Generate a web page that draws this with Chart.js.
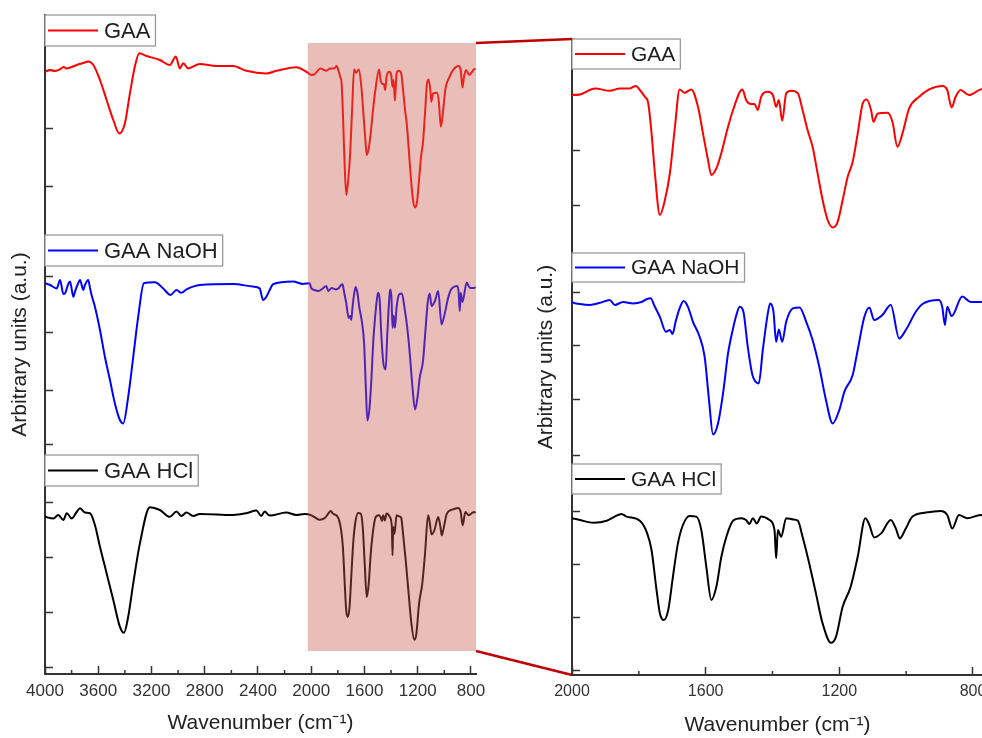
<!DOCTYPE html>
<html>
<head>
<meta charset="utf-8">
<script src="https://cdn.jsdelivr.net/npm/chart.js@4.4.1/dist/chart.umd.min.js"></script>
<style>
  html, body { margin: 0; padding: 0; background: #fff; overflow: hidden; width: 982px; height: 738px; }
  #leftWrap { position: absolute; left: 0; top: 0; width: 500px; height: 738px; }
  #rightWrap { position: absolute; left: 470px; top: 0; width: 530px; height: 738px; }
</style>
</head>
<body>
<div id="leftWrap"><canvas id="leftChart"></canvas></div>
<div id="rightWrap"><canvas id="rightChart"></canvas></div>
<script>
// Espectros FTIR (número de onda, intensidad relativa en u.a.)
const gaaWn = [
    4000, 3962, 3925, 3887, 3862, 3837, 3800, 3762, 3712, 3675,
    3637, 3587, 3537, 3487, 3442, 3400, 3362, 3325, 3292, 3237,
    3137, 3062, 3017, 2987, 2962, 2925, 2837, 2712, 2587, 2487,
    2337, 2262, 2112, 2025, 2000, 1976, 1931, 1887, 1857, 1827,
    1809, 1797, 1782, 1772, 1762, 1752, 1737, 1722, 1707, 1692,
    1678, 1663, 1643, 1623, 1608, 1593, 1583, 1568, 1553, 1538,
    1518, 1490, 1479, 1464, 1454, 1444, 1434, 1414, 1399, 1389,
    1381, 1371, 1359, 1344, 1324, 1310, 1295, 1280, 1265, 1250,
    1235, 1220, 1205, 1190, 1175, 1160, 1145, 1130, 1118, 1105,
    1098, 1085, 1056, 1041, 1026, 1011, 991, 961, 931, 892,
    877, 864, 852, 837, 812, 777, 765
];
const gaaVal = [
    -1.9, -1, -1.5, -0.7, 0.5, -0.2, 0.5, 1.5, 2.5, 3.2,
    1.5, -6, -16, -26, -32.7, -27.7, -12.7, 0.7, 7.4, 6,
    4, 1.5, 5.7, -0.2, 2.4, -0.2, 2, 1, 1, -1.4,
    -2.7, -1.4, 0.4, -2.4, -3.5, -3.2, -0.2, -1.4, -0.2, -0.2,
    1, -1, -4.4, -7.5, -22.5, -42.5, -63.5, -56, -42.5, -19.5,
    -0.7, -2.4, -0.7, -9.4, -22.7, -36, -43.5, -40.2, -32.5, -22.5,
    -11, -0.7, -6, -8, -8, -11, -4.4, -1.9, -3.5, -9.4,
    -6, -16.4, -2.7, -1.4, -2.7, -11, -21, -29.4, -42.7, -56,
    -66, -69.7, -66.9, -56, -44.4, -36.9, -22.7, -7.7, -5.7, -11,
    -16.9, -12.7, -12.4, -16.9, -29.4, -22.7, -10.2, -4.4, -0.7, 1,
    -1, -9.7, -4.4, -1, -3.5, -0.7, -0.5
];

const naohWn = [
    4000, 3962, 3912, 3887, 3862, 3850, 3825, 3812, 3787, 3775,
    3750, 3737, 3712, 3700, 3675, 3662, 3650, 3625, 3587, 3550,
    3512, 3475, 3437, 3412, 3375, 3337, 3300, 3257, 3175, 3112,
    3057, 3012, 2975, 2937, 2837, 2587, 2437, 2387, 2362, 2337,
    2312, 2287, 2137, 2062, 2012, 2000, 1976, 1946, 1916, 1887,
    1872, 1847, 1817, 1792, 1777, 1765, 1752, 1737, 1719, 1707,
    1699, 1690, 1678, 1666, 1653, 1638, 1618, 1603, 1590, 1578,
    1563, 1548, 1533, 1518, 1508, 1498, 1487, 1474, 1460, 1441,
    1429, 1414, 1407, 1397, 1389, 1381, 1371, 1359, 1339, 1319,
    1299, 1280, 1260, 1240, 1220, 1200, 1185, 1160, 1145, 1125,
    1110, 1096, 1071, 1046, 1021, 1001, 971, 951, 902, 892,
    884, 877, 864, 832, 807, 777, 765
];
const naohVal = [
    2.4, 1.5, -0.2, 4, -3, -2.7, 2, 3.2, -4.4, -1.9,
    2.5, 4, -1, 1.5, 4, 0, -3.5, -9.4, -21, -34.4,
    -46, -57.7, -66, -67.7, -54.4, -34.4, -14.4, 2.4, 2.9, -0.2,
    -3.5, -1, -2.4, -0.7, 1.5, 2, 0.7, -0.2, -6, -4.4,
    -1, 1.9, 3.2, 2, 2.4, 0, -1, -1.5, -0.4, 1,
    -1.5, 0, -0.7, 0, 1.4, 1.9, -2.4, -7.4, -14.9, -14,
    -16, -9.9, -3.2, 0.5, -2.4, -9.9, -17.4, -27.4, -49, -66.2,
    -60.7, -45.7, -25.7, -13.2, -6.5, -2.4, -4.9, -22.4, -36.5, -40.7,
    -24, -5.7, -0.7, -4.9, -19.9, -13.7, -19.9, -9.9, -3.2, -2.7,
    -9.9, -19, -32.4, -49, -60.7, -54, -44.9, -36.5, -24, -7.4,
    -2.7, -9, -6.5, -1.5, -18.2, -14, -4.9, -1, 1, -2.4,
    -11.5, -2.4, -7, 2.7, 0, 0, 0.5
];

const hclWn = [
    4000, 3937, 3900, 3862, 3837, 3800, 3762, 3737, 3700, 3662,
    3625, 3587, 3537, 3487, 3437, 3407, 3375, 3337, 3287, 3212,
    3137, 3062, 3012, 2975, 2937, 2887, 2837, 2587, 2487, 2412,
    2375, 2350, 2312, 2187, 2112, 2050, 2000, 1976, 1936, 1896,
    1872, 1852, 1837, 1797, 1775, 1762, 1747, 1737, 1725, 1712,
    1698, 1683, 1668, 1648, 1628, 1613, 1598, 1583, 1568, 1553,
    1538, 1518, 1493, 1479, 1469, 1459, 1447, 1434, 1409, 1394,
    1389, 1384, 1374, 1359, 1339, 1324, 1310, 1290, 1270, 1250,
    1225, 1210, 1190, 1166, 1145, 1122, 1110, 1096, 1075, 1046,
    1031, 1019, 1001, 981, 941, 897, 877, 862, 842, 817,
    777, 765
];
const hclVal = [
    -0.4, -1.2, 0.5, -2, 1.4, -1.2, 2, 3.9, 1.7, 1.4,
    -4.5, -15.4, -28.7, -42, -55.4, -58.4, -50.4, -33.7, -13.7, 4.4,
    3, -0.4, 2.2, 0, 1.7, 0, 1, 0.5, 1.4, 2.7,
    0, 2.2, 0.2, 1.7, 0.5, 1, 0.4, -0.5, -1.9, -0.9,
    1.2, 2.5, 1.2, -0.9, -7.2, -15.5, -35.5, -47.2, -50.5, -45.5,
    -28.9, -12.2, -3, 1.5, 1.2, -5.5, -23.9, -40.5, -33.9, -18.9,
    -8.9, -0.9, 0.4, -0.5, -2.5, 0.4, -2.2, 1.2, -0.5, -5.5,
    -19.7, -5.5, -8.9, 0.4, -0.2, -0.9, -8.9, -22.2, -37.2, -52.2,
    -61.9, -58.9, -43.9, -33.9, -18.9, 0.4, -3, -9.2, -7.2, -0.5,
    -4.7, -9.7, -4.7, 1.2, 3.2, 4, 2, -4.7, 2, 0.4,
    2, 1.5
];

// Marcas de los ejes
const leftXTicks = [4000, 3600, 3200, 2800, 2400, 2000, 1600, 1200, 800];
const rightXTicks = [2000, 1600, 1200, 800];
const leftMinorTicks = [3800, 3400, 3000, 2600, 2200, 1800, 1400, 1000];
const rightMinorTicks = [1800, 1400, 1000];
const leftYTicks = [3.5, 31, 58.5, 86, 114.5, 142, 171, 199, 244, 273, 302];
const rightYTicks = [2.5, 29, 55.5, 82, 110, 138, 164.5, 191.5, 235, 262.5, 290];

const FONT = "'Liberation Sans', Arial, Helvetica, sans-serif";
const AXIS_COLOR = '#333333';

// Desplazamiento vertical de cada espectro (apilado)
function makeSeries(wn, vals, offset) {
    return wn.map((w, i) => ({ x: w, y: offset + vals[i] }));
}

function makeDatasets(offsets) {
    return [
        { data: makeSeries(gaaWn, gaaVal, offsets[0]), borderColor: '#ff0000' },
        { data: makeSeries(naohWn, naohVal, offsets[1]), borderColor: '#0000ff' },
        { data: makeSeries(hclWn, hclVal, offsets[2]), borderColor: '#000000' }
    ].map(d => Object.assign(d, {
        borderWidth: 2,
        pointRadius: 0,
        fill: false,
        cubicInterpolationMode: 'monotone'
    }));
}

// Plugin: sombreado, leyendas individuales, marcas menores y líneas de zoom
const panelPlugin = {
    id: 'panelExtras',
    afterDatasetsDraw(chart, args, opts) {
        const { ctx, chartArea, scales } = chart;
        if (opts.shade) {
            const x1 = scales.x.getPixelForValue(opts.shade.from);
            const x2 = scales.x.getPixelForValue(opts.shade.to);
            const y1 = scales.y.getPixelForValue(opts.shade.top);
            const y2 = scales.y.getPixelForValue(opts.shade.bottom);
            ctx.save();
            ctx.fillStyle = opts.shade.color;
            ctx.fillRect(Math.min(x1, x2), y1, Math.abs(x2 - x1), y2 - y1);
            ctx.restore();
        }
        (opts.legends || []).forEach(item => {
            const top = scales.y.getPixelForValue(item.top);
            const bottom = scales.y.getPixelForValue(item.bottom);
            const left = chartArea.left;
            ctx.save();
            ctx.font = opts.legendFontSize + 'px ' + FONT;
            const w = 59 + ctx.measureText(item.text).width + 5;
            ctx.fillStyle = '#ffffff';
            ctx.fillRect(left, top, w, bottom - top);
            ctx.strokeStyle = '#9a9a9a';
            ctx.lineWidth = 1.3;
            ctx.strokeRect(left, top, w, bottom - top);
            const mid = (top + bottom) / 2;
            ctx.strokeStyle = item.color;
            ctx.lineWidth = 2;
            ctx.beginPath();
            ctx.moveTo(left + 3, mid);
            ctx.lineTo(left + 53, mid);
            ctx.stroke();
            ctx.fillStyle = '#1e1e1e';
            ctx.textBaseline = 'middle';
            ctx.fillText(item.text, left + 59, mid + 1);
            ctx.restore();
        });
    },
    afterDraw(chart, args, opts) {
        const { ctx, chartArea, scales } = chart;
        ctx.save();
        ctx.strokeStyle = AXIS_COLOR;
        ctx.lineWidth = 1.5;
        (opts.minorTicks || []).forEach(v => {
            const px = scales.x.getPixelForValue(v);
            ctx.beginPath();
            ctx.moveTo(px, chartArea.bottom);
            ctx.lineTo(px, chartArea.bottom - 4);
            ctx.stroke();
        });
        ctx.restore();

        if (opts.connectFrom && window.leftChart) {
            const lc = window.leftChart;
            const s = opts.connectFrom;
            const offX = chart.canvas.getBoundingClientRect().left - lc.canvas.getBoundingClientRect().left;
            const xL = lc.scales.x.getPixelForValue(s.to) - offX;
            const yT = lc.scales.y.getPixelForValue(s.top);
            const yB = lc.scales.y.getPixelForValue(s.bottom);
            ctx.save();
            ctx.strokeStyle = '#c00000';
            ctx.lineWidth = 2.5;
            ctx.beginPath();
            ctx.moveTo(xL, yT);
            ctx.lineTo(chartArea.left, chartArea.top);
            ctx.moveTo(xL, yB);
            ctx.lineTo(chartArea.left, chartArea.bottom);
            ctx.stroke();
            ctx.restore();
        }
    }
};

function axisX(min, max, height, tickValues, tickSize, titlePad) {
    return {
        type: 'linear', reverse: true, min: min, max: max, z: 1,
        afterFit: s => { s.height = height; s.paddingLeft = 0; s.paddingRight = 0; },
        afterBuildTicks: s => { s.ticks = tickValues.map(v => ({ value: v })); },
        ticks: {
            autoSkip: false, maxRotation: 0,
            padding: 15, color: AXIS_COLOR,
            font: { size: tickSize, family: FONT },
            callback: v => String(v)
        },
        grid: { drawOnChartArea: false, tickLength: -8, tickColor: AXIS_COLOR, tickWidth: 1.5 },
        border: { color: AXIS_COLOR, width: 2 },
        title: {
            display: true, text: 'Wavenumber (cm⁻¹)', color: '#222',
            font: { size: 21, family: FONT },
            padding: { top: 0, bottom: titlePad }
        }
    };
}

function axisY(max, width, tickValues) {
    return {
        min: 0, max: max, z: 1,
        afterFit: s => { s.width = width; },
        afterBuildTicks: s => { s.ticks = tickValues.map(v => ({ value: v })); },
        ticks: { callback: () => '', padding: 0 },
        grid: { drawOnChartArea: false, tickLength: -8, tickColor: AXIS_COLOR, tickWidth: 1.5 },
        border: { color: AXIS_COLOR, width: 2 },
        title: {
            display: true, text: 'Arbitrary units (a.u.)', color: '#222',
            font: { size: 21, family: FONT },
            padding: { top: 8, bottom: 0 }
        }
    };
}

const shadeRegion = { from: 2025, to: 762, top: 315.5, bottom: 11.5, color: 'rgba(200, 90, 78, 0.4)' };

window.leftChart = new Chart(document.getElementById('leftChart'), {
    type: 'line',
    data: { datasets: makeDatasets([303, 193, 79]) },
    options: {
        responsive: true,
        maintainAspectRatio: false,
        animation: false,
        layout: { padding: { left: 0, top: 15, right: 24, bottom: 0 } },
        scales: {
            x: axisX(762, 4000, 64, leftXTicks, 17, 2),
            y: axisY(329.5, 45, leftYTicks)
        },
        plugins: {
            legend: { display: false },
            tooltip: { enabled: false },
            panelExtras: {
                shade: shadeRegion,
                legendFontSize: 22,
                minorTicks: leftMinorTicks,
                legends: [
                    { text: 'GAA', color: '#ff0000', top: 329.5, bottom: 314 },
                    { text: 'GAA NaOH', color: '#0000ff', top: 219.5, bottom: 204 },
                    { text: 'GAA HCl', color: '#000000', top: 109.5, bottom: 94 }
                ]
            }
        }
    },
    plugins: [panelPlugin]
});

window.rightChart = new Chart(document.getElementById('rightChart'), {
    type: 'line',
    data: { datasets: makeDatasets([293.5, 186.5, 78]) },
    options: {
        responsive: true,
        maintainAspectRatio: false,
        animation: false,
        layout: { padding: { left: 56, top: 39, right: 17, bottom: 0 } },
        scales: {
            x: axisX(770, 2000, 63, rightXTicks, 16, 0),
            y: axisY(318, 46, rightYTicks)
        },
        plugins: {
            legend: { display: false },
            tooltip: { enabled: false },
            panelExtras: {
                legendFontSize: 21,
                minorTicks: rightMinorTicks,
                connectFrom: shadeRegion,
                legends: [
                    { text: 'GAA', color: '#ff0000', top: 318, bottom: 303 },
                    { text: 'GAA NaOH', color: '#0000ff', top: 211, bottom: 196.5 },
                    { text: 'GAA HCl', color: '#000000', top: 105.5, bottom: 90.5 }
                ]
            }
        }
    },
    plugins: [panelPlugin]
});
</script>
</body>
</html>
